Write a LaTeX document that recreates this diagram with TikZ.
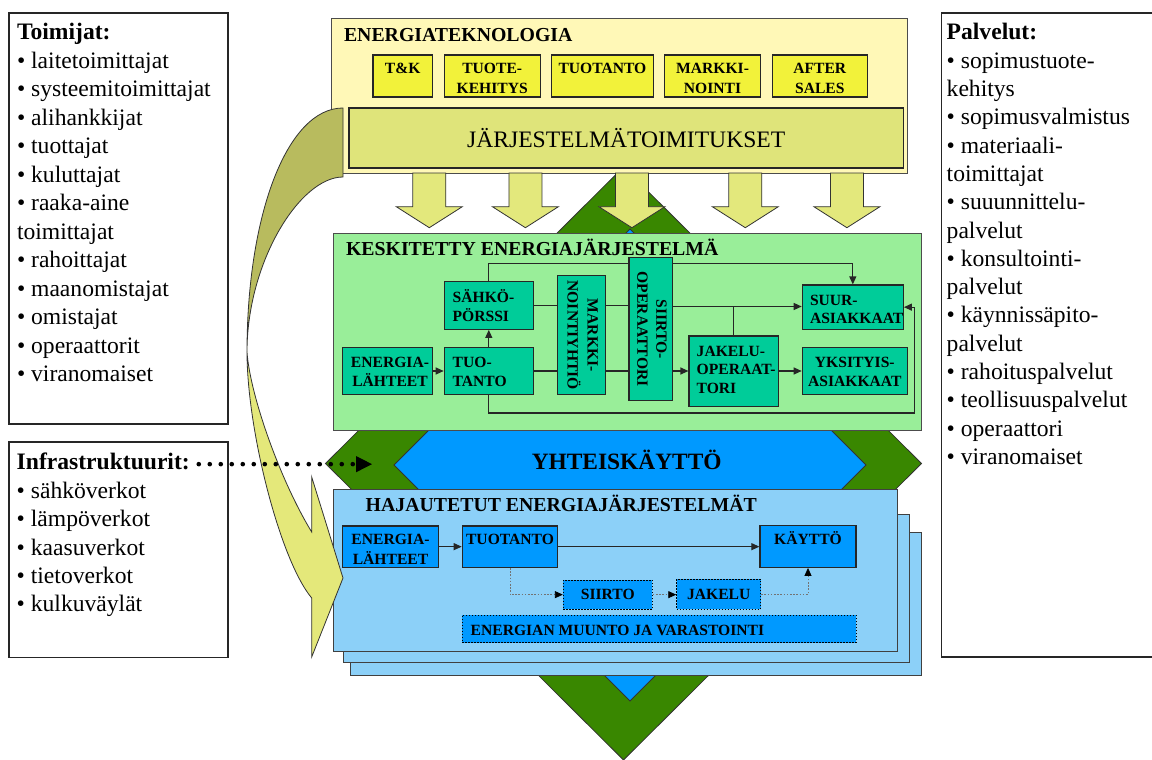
\documentclass[tikz,border=0pt]{standalone}
\usepackage{fontspec}
\setmainfont{Liberation Serif}
\usetikzlibrary{arrows.meta,fit}

% stacked lines with the first baseline as reference point
\newcommand{\stk}[2][c]{\begin{tabular}[t]{@{}#1@{}}#2\end{tabular}}
\newcommand{\listfont}{\fontsize{23.6}{28.5}\selectfont}
\newcommand{\boxfont}{\fontsize{15.6}{20}\selectfont\bfseries}
\newcommand{\gboxfont}{\fontsize{15.6}{18.6}\selectfont\bfseries}
\newcommand{\titlefont}{\fontsize{19.8}{24}\selectfont\bfseries}

\definecolor{dgreen}{HTML}{398700}
\definecolor{skyblue}{HTML}{0099FF}
\definecolor{paleyellow}{HTML}{FFF8B7}
\definecolor{brightyellow}{HTML}{F2F23A}
\definecolor{supplyband}{HTML}{DFE47A}
\definecolor{arrowyellow}{HTML}{E3E87C}
\definecolor{backolive}{HTML}{B8BB5E}
\definecolor{frontyellow}{HTML}{E4E87A}
\definecolor{lightgreen}{HTML}{99EE99}
\definecolor{tealbox}{HTML}{00CC99}
\definecolor{lightblue}{HTML}{8CD0F8}

\tikzset{
  frame/.style={rectangle, inner sep=0pt, draw=black!85, line width=1.1pt},
  box/.style={rectangle, inner sep=0pt, draw=black!85, line width=1.2pt},
  panel/.style={rectangle, inner sep=0pt, draw=black!70, line width=1pt},
  lbl/.style={inner sep=0pt, outer sep=0pt},
  conn/.style={draw=black!85, line width=1.2pt},
  tip/.style={-{Triangle[length=8pt,width=7pt]}},
  dottip/.style={-{Triangle[length=8pt,width=7pt,color=black]}},
  dotconn/.style={draw=black!55, line width=0.8pt, dash pattern=on 1.6pt off 1.6pt},
  dotbox/.style={rectangle, inner sep=0pt, draw=black, line width=0.9pt, dash pattern=on 1.5pt off 1.5pt, fill=skyblue},
  outline/.style={draw=black!80, line width=0.8pt},
}

\begin{document}
\begin{tikzpicture}[x=1pt,y=-1pt]
\useasboundingbox (0,0) rectangle (1152,760);

% ---- the two diamonds in the background ----
\filldraw[outline, fill=dgreen] (623.5,167) -- (921.5,463.5) -- (623.5,760) -- (325.5,463.5) -- cycle;
\filldraw[outline, fill=skyblue] (630,229) -- (866,465) -- (630,701) -- (394,465) -- cycle;
\node[lbl, anchor=base, font=\fontsize{23.4}{28}\selectfont\bfseries] (yht) at (626.7,469) {YHTEISKÄYTTÖ};

% ---- energy technology ----
\node[panel, fill=paleyellow, fit={(331,19) (907,173)}] (tech) {};
\node[lbl, anchor=base west, font=\titlefont] (tech-t) at (344,41.7) {ENERGIATEKNOLOGIA};

\node[box, fill=brightyellow, fit={(373,55) (432.5,97)}] (tk) {};
\node[box, fill=brightyellow, fit={(444.3,55) (540.1,97)}] (tk2) {};
\node[box, fill=brightyellow, fit={(551.2,55) (653.7,97)}] (tk3) {};
\node[box, fill=brightyellow, fit={(664.8,55) (760.3,97)}] (tk4) {};
\node[box, fill=brightyellow, fit={(772.1,55) (867.5,97)}] (tk5) {};
\node[lbl, anchor=base, font=\boxfont] (tk-t) at (tk.north |- 0,74) {\stk{T\&K}};
\node[lbl, anchor=base, font=\boxfont] (tk2-t) at (tk2.north |- 0,74) {\stk{TUOTE-\\KEHITYS}};
\node[lbl, anchor=base, font=\boxfont] (tk3-t) at (tk3.north |- 0,74) {\stk{TUOTANTO}};
\node[lbl, anchor=base, font=\boxfont] (tk4-t) at (tk4.north |- 0,74) {\stk{MARKKI-\\NOINTI}};
\node[lbl, anchor=base, font=\boxfont] (tk5-t) at (tk5.north |- 0,74) {\stk{AFTER\\SALES}};

\node[box, fill=supplyband, fit={(349,108) (903.4,168)}] (jarj) {};
\node[lbl, anchor=base, font=\fontsize{23.6}{28}\selectfont] (jarj-t) at (jarj.center |- 0,147.7) {JÄRJESTELMÄTOIMITUKSET};

% ---- block arrows down to the centralised system ----
\foreach \cx in {429.3,525.4,631.9,745.3,846.9}
  \filldraw[outline, fill=arrowyellow] (\cx-16.5,173) -- (\cx+16.5,173) -- (\cx+16.5,206.7)
    -- (\cx+33,206.7) -- (\cx,227.7) -- (\cx-33,206.7) -- (\cx-16.5,206.7) -- cycle;

% ---- centralised energy system ----
\node[panel, fill=lightgreen, fit={(333,233) (921,430)}] (kesk) {};
\node[lbl, anchor=base west, font=\titlefont] (kesk-t) at (346,255) {KESKITETTY ENERGIAJÄRJESTELMÄ};

\node[box, fill=tealbox, fit={(444.3,281.7) (533.3,329.3)}] (sahko) {};
\node[box, fill=tealbox, fit={(444.3,347.3) (533.3,394.7)}] (tuo) {};
\node[box, fill=tealbox, fit={(342.7,347.3) (432.3,394.7)}] (ener) {};
\node[box, fill=tealbox, fit={(557.7,275.7) (605.3,394.7)}] (markki) {};
\node[box, fill=tealbox, fit={(629,257.7) (672.3,400.7)}] (siirto) {};
\node[box, fill=tealbox, fit={(689,336) (778.3,406.7)}] (jakelu) {};
\node[box, fill=tealbox, fit={(802.3,285) (903.3,329.3)}] (suur) {};
\node[box, fill=tealbox, fit={(802.3,347.7) (907.3,394.7)}] (yksi) {};

\node[lbl, anchor=base west, font=\gboxfont] (sahko-t) at (452.7,302.7) {\stk[l]{SÄHKÖ-\\PÖRSSI}};
\node[lbl, anchor=base west, font=\gboxfont] (tuo-t) at (452.7,367.7) {\stk[l]{TUO-\\TANTO}};
\node[lbl, anchor=base, font=\gboxfont] (ener-t) at (390,367.7) {\stk{ENERGIA-\\LÄHTEET}};
\node[lbl, rotate=-90, font=\fontsize{15.6}{20}\selectfont\bfseries] (markki-t) at (markki.center) {\stk{MARKKI-\\NOINTIYHTIÖ}};
\node[lbl, rotate=-90, font=\fontsize{15.6}{19}\selectfont\bfseries] (siirto-t) at (siirto.center) {\stk{SIIRTO-\\OPERAATTORI}};
\node[lbl, anchor=base west, font=\gboxfont] (jakelu-t) at (696.7,356) {\stk[l]{JAKELU-\\OPERAAT-\\TORI}};
\node[lbl, anchor=base west, font=\gboxfont] (suur-t) at (810,305) {\stk[l]{SUUR-\\ASIAKKAAT}};
\node[lbl, anchor=base, font=\gboxfont] (yksi-t) at (yksi.center |- 0,367.7) {\stk{YKSITYIS-\\ASIAKKAAT}};

\coordinate (toploop) at (0,263.3);
\coordinate (midline) at (0,306.5);
\draw[conn] (sahko.north) |- (siirto.west |- toploop);
\draw[conn, tip] (siirto.east |- toploop) -| (suur.north);
\draw[conn] (sahko.east) -- (sahko.east -| markki.west);
\draw[conn] (markki.east |- sahko.east) -- (siirto.west |- sahko.east);
\draw[conn, tip] (siirto.east |- midline) -- (suur.west |- midline);
\draw[conn] (jakelu.north) -- (jakelu.north |- midline);
\draw[conn, tip] (ener.east) -- (tuo.west);
\draw[conn, tip] (tuo.north) -- (sahko.south);
\draw[conn] (tuo.east) -- (tuo.east -| markki.west);
\draw[conn] (markki.east |- tuo.east) -- (siirto.west |- tuo.east);
\draw[conn, tip] (siirto.east |- tuo.east) -- (jakelu.west |- tuo.east);
\draw[conn, tip] (jakelu.east |- tuo.east) -- (yksi.west |- tuo.east);
\draw[conn, tip] (tuo.south) -- ++(0,17.6) -| ([xshift=10.4pt]suur.east) -- (suur.east);

% ---- distributed energy systems (stacked sheets) ----
\node[panel, fill=lightblue, draw=black!75, fit={(350,532.3) (921.7,675)}] (hs3) {};
\node[panel, fill=lightblue, draw=black!75, fit={(343,514.3) (909.3,662.7)}] (hs2) {};
\node[panel, fill=lightblue, draw=black!75, fit={(333.3,489.3) (897.3,651)}] (hs1) {};
\node[lbl, anchor=base west, font=\titlefont] (hs-t) at (365.7,511.7) {HAJAUTETUT ENERGIAJÄRJESTELMÄT};

\node[box, fill=skyblue, fit={(342.7,526) (438.3,567.3)}] (be) {};
\node[box, fill=skyblue, fit={(462.3,526) (557.7,567.3)}] (bt) {};
\node[box, fill=skyblue, fit={(760,525.7) (856,567.3)}] (kay) {};
\node[dotbox, fit={(563.3,580) (652.3,609.3)}] (bs) {};
\node[dotbox, fit={(676.7,579.3) (760.7,609.3)}] (bj) {};
\node[dotbox, fit={(462.3,615) (856,642.7)}] (muunto) {};

\node[lbl, anchor=base, font=\boxfont] (be-t) at (be.center |- 0,544.3) {\stk{ENERGIA-\\LÄHTEET}};
\node[lbl, anchor=base, font=\boxfont] (bt-t) at (bt.center |- 0,544.3) {TUOTANTO};
\node[lbl, anchor=base, font=\boxfont] (kay-t) at (kay.center |- 0,544.3) {KÄYTTÖ};
\node[lbl, anchor=base, font=\boxfont] (bs-t) at (bs.center |- 0,599.3) {SIIRTO};
\node[lbl, anchor=base, font=\boxfont] (bj-t) at (bj.center |- 0,599.3) {JAKELU};
\node[lbl, anchor=base west, font=\boxfont] (muunto-t) at (470.7,635) {ENERGIAN MUUNTO JA VARASTOINTI};

\draw[conn, line width=1pt, tip] (be.east) -- (bt.west |- be.east);
\draw[conn, line width=1pt, tip] (bt.east) -- (kay.west |- bt.east);
\draw[dotconn, dottip] (bt.south) |- (bs.west);
\draw[dotconn, dottip] (bs.east) -- (bj.west |- bs.east);
\draw[dotconn, dottip] (bj.east) -| (kay.south);

% ---- curved supply arrow: darker back ribbon, lighter front with head ----
\filldraw[outline, fill=backolive] (343,108) .. controls (287,108) and (247,215) .. (247,352)
  .. controls (247,262) and (300,177) .. (343,177) -- cycle;
\filldraw[outline, fill=frontyellow] (247,352) .. controls (250,395) and (280,480) .. (311.7,532)
  -- (311.7,477) -- (343,578) -- (311.7,657) -- (311.7,598)
  .. controls (280,560) and (247,430) .. (247,352) -- cycle;

% ---- side panels ----
\node[frame, fit={(9,13) (228,424)}] (toim-box) {};
\node[lbl, anchor=base west, font=\listfont] (toim) at (17,40) {\stk[l]{\textbf{Toimijat:}\\
• laitetoimittajat\\ • systeemitoimittajat\\ • alihankkijat\\ • tuottajat\\ • kuluttajat\\
• raaka-aine\\ toimittajat\\ • rahoittajat\\ • maanomistajat\\ • omistajat\\ • operaattorit\\ • viranomaiset}};

\node[frame, fit={(9,442) (228,657.7)}] (infra-box) {};
\node[lbl, anchor=base west, font=\listfont\bfseries] (infra-t) at (16.7,469.3) {Infrastruktuurit:};
\node[lbl, anchor=base west, font=\fontsize{23.6}{28.4}\selectfont] (infra) at (16.7,498.3) {\stk[l]{• sähköverkot\\
• lämpöverkot\\ • kaasuverkot\\ • tietoverkot\\ • kulkuväylät}};

\node[frame, fit={(941.7,13) (1160,657)}] (palv-box) {};
\node[lbl, anchor=base west, font=\fontsize{23.6}{28.3}\selectfont] (palv) at (946.7,40) {\stk[l]{\textbf{Palvelut:}\\
• sopimustuote-\\ kehitys\\ • sopimusvalmistus\\ • materiaali-\\ toimittajat\\ • suuunnittelu-\\ palvelut\\
• konsultointi-\\ palvelut\\ • käynnissäpito-\\ palvelut\\ • rahoituspalvelut\\ • teollisuuspalvelut\\
• operaattori\\ • viranomaiset}};

% ---- dotted pointer from the infrastructures to the shared use band ----
\coordinate (dots-end) at (357,0);
\coordinate (dots-tip) at (372,0);
\draw[line width=4.6pt, dash pattern=on 0pt off 11pt, line cap=round, shorten <=9pt]
  ([yshift=-3pt]infra-t.east) -- ([yshift=-3pt]infra-t.east -| dots-end);
\draw[line width=1pt, -{Triangle[length=16pt,width=16pt]}]
  ([yshift=-3pt]infra-t.east -| dots-end) -- ([yshift=-3pt]infra-t.east -| dots-tip);
\end{tikzpicture}
\end{document}
